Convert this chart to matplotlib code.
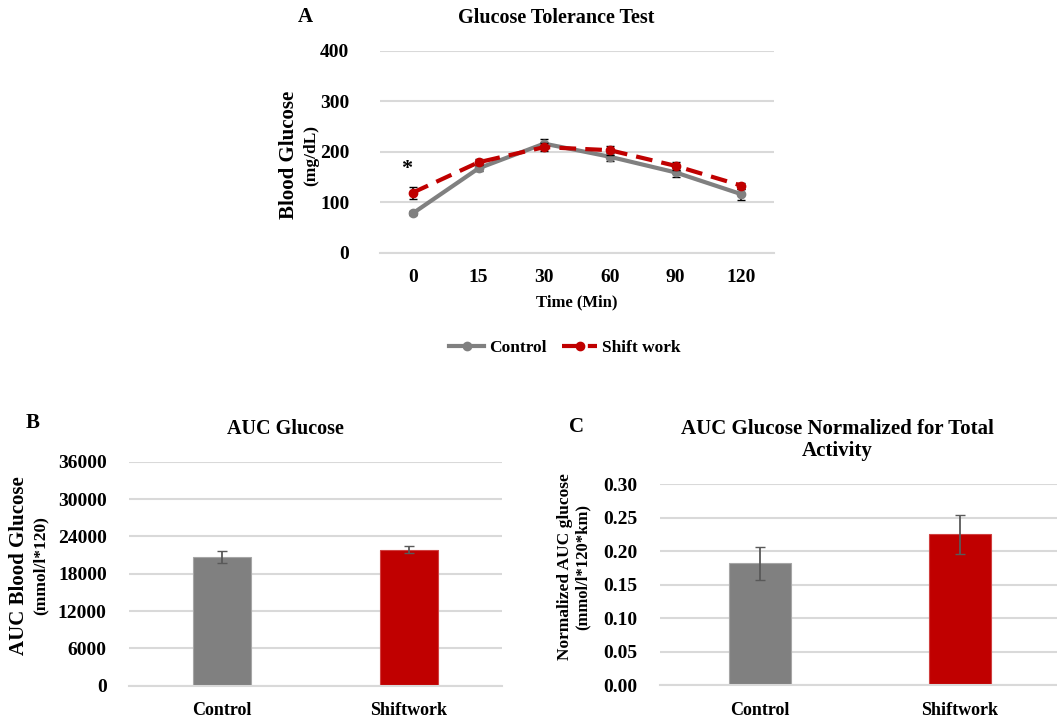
import matplotlib
matplotlib.use("Agg")
import matplotlib.pyplot as plt
from matplotlib.lines import Line2D
import numpy as np

plt.rcParams['font.family'] = ['Liberation Serif', 'DejaVu Serif']
plt.rcParams['font.weight'] = 'bold'

# ---- Data ----
time_labels = ["0", "15", "30", "60", "90", "120"]
control_gtt = [78, 167, 216, 190, 159, 116]
control_gtt_err = [4, 5, 10, 8, 10, 11]
shift_gtt = [119, 179, 209, 203, 172, 133]
shift_gtt_err = [12, 6, 8, 9, 8, 6]

bar_groups = ["Control", "Shiftwork"]
auc_values = [20700, 21850]
auc_err = [950, 550]
norm_auc_values = [0.182, 0.225]
norm_auc_err = [0.025, 0.029]

GRAY = "#808080"
RED = "#c00000"
GRID = "#d9d9d9"

W, H = 1057, 719
fig = plt.figure(figsize=(W / 100, H / 100), dpi=100)


def fx(px):
    return px / W


def fy(py):
    return 1 - py / H


def style_axes(ax, xsize=14):
    for s in ["top", "right", "left"]:
        ax.spines[s].set_visible(False)
    ax.spines["bottom"].set_color(GRID)
    ax.spines["bottom"].set_linewidth(1.5)
    ax.yaxis.grid(True, color=GRID, linewidth=1.5)
    ax.set_axisbelow(True)
    ax.tick_params(axis="y", length=0, labelsize=14)
    ax.tick_params(axis="x", length=0, labelsize=xsize)
    for lab in ax.get_xticklabels() + ax.get_yticklabels():
        lab.set_fontweight("bold")


# ---- Panel A ----
axA = fig.add_axes([fx(380), fy(252.7), fx(394), 202 / H])
x = np.arange(len(time_labels))
axA.errorbar(x, control_gtt, yerr=control_gtt_err, color=GRAY, lw=3,
             marker="o", ms=6, ecolor="black", elinewidth=1.2, capsize=3, zorder=3)
axA.errorbar(x, shift_gtt, yerr=shift_gtt_err, color=RED, lw=3, ls=(0, (4, 2.2)),
             marker="o", ms=6, ecolor="black", elinewidth=1.2, capsize=3, zorder=4)
axA.set_xlim(-0.5, len(time_labels) - 0.5)
axA.set_ylim(0, 400)
axA.set_yticks([0, 100, 200, 300, 400])
axA.set_xticks(x)
axA.set_xticklabels(time_labels)
style_axes(axA)
axA.tick_params(axis="x", pad=12)
axA.tick_params(axis="y", pad=22)
axA.text(-0.1, 166, "*", fontsize=16, fontweight="bold", ha="center", va="center")
axA.set_xlabel("Time (Min)", fontsize=12, fontweight="bold", labelpad=6)

fig.text(fx(556), fy(18), "Glucose Tolerance Test", fontsize=14.5, fontweight="bold",
         ha="center", va="center")
fig.text(fx(305), fy(17), "A", fontsize=15, fontweight="bold", ha="center", va="center")
fig.text(fx(289), fy(155), "Blood Glucose", fontsize=15, fontweight="bold",
         rotation=90, ha="center", va="center")
fig.text(fx(311), fy(155), "(mg/dL)", fontsize=12.5, fontweight="bold",
         rotation=90, ha="center", va="center")

legend_handles = [
    Line2D([0], [0], color=GRAY, lw=3, marker="o", ms=6),
    Line2D([0], [0], color=RED, lw=3, ls=(0, (4, 2.2)), marker="o", ms=6),
]
leg = fig.legend(legend_handles, ["Control", "Shift work"], ncol=2, frameon=False,
                 loc="center", bbox_to_anchor=(fx(565), fy(348)),
                 prop={"size": 12.5, "weight": "bold"}, handlelength=2.0,
                 handletextpad=0.3, columnspacing=0.9)

# ---- Panel B ----
axB = fig.add_axes([fx(129), fy(685.7), fx(373), 224 / H])
xb = np.arange(len(bar_groups))
axB.bar(xb, auc_values, width=0.31, color=[GRAY, RED],
        edgecolor=["#a6a6a6", "#d04040"], linewidth=0.8, zorder=2)
axB.errorbar(xb, auc_values, yerr=auc_err, fmt="none", ecolor="#595959",
             elinewidth=1.3, capsize=3.5, zorder=3)
axB.set_xlim(-0.5, 1.5)
axB.set_ylim(0, 36000)
axB.set_yticks([0, 6000, 12000, 18000, 24000, 30000, 36000])
axB.set_xticks(xb)
axB.set_xticklabels(bar_groups)
style_axes(axB, xsize=13)
axB.tick_params(axis="x", pad=12)
axB.tick_params(axis="y", pad=16)

fig.text(fx(33), fy(423), "B", fontsize=15, fontweight="bold", ha="center", va="center")
fig.text(fx(285), fy(429), "AUC Glucose", fontsize=14.5, fontweight="bold",
         ha="center", va="center")
fig.text(fx(19), fy(566), "AUC Blood Glucose", fontsize=15, fontweight="bold",
         rotation=90, ha="center", va="center")
fig.text(fx(41), fy(566), "(mmol/l*120)", fontsize=12.5, fontweight="bold",
         rotation=90, ha="center", va="center")

# ---- Panel C ----
axC = fig.add_axes([fx(660), fy(685), fx(400), 200.7 / H])
axC.bar(xb, norm_auc_values, width=0.31, color=[GRAY, RED],
        edgecolor=["#a6a6a6", "#d04040"], linewidth=0.8, zorder=2)
axC.errorbar(xb, norm_auc_values, yerr=norm_auc_err, fmt="none", ecolor="#595959",
             elinewidth=1.3, capsize=3.5, zorder=3)
axC.set_xlim(-0.5, 1.5)
axC.set_ylim(0, 0.30)
yt = [0.0, 0.05, 0.10, 0.15, 0.20, 0.25, 0.30]
axC.set_yticks(yt)
axC.set_yticklabels([f"{v:.2f}" for v in yt])
axC.set_xticks(xb)
axC.set_xticklabels(bar_groups)
style_axes(axC, xsize=13)
axC.tick_params(axis="x", pad=12)
axC.tick_params(axis="y", pad=16)

fig.text(fx(577), fy(427), "C", fontsize=15, fontweight="bold", ha="center", va="center")
fig.text(fx(837), fy(440), "AUC Glucose Normalized for Total\nActivity", fontsize=15,
         fontweight="bold", ha="center", va="center", linespacing=1.1)
fig.text(fx(565), fy(567), "Normalized AUC glucose", fontsize=12.5, fontweight="bold",
         rotation=90, ha="center", va="center")
fig.text(fx(583), fy(567), "(mmol/l*120*km)", fontsize=12, fontweight="bold",
         rotation=90, ha="center", va="center")

fig.savefig("out.png", dpi=100, facecolor="white")
